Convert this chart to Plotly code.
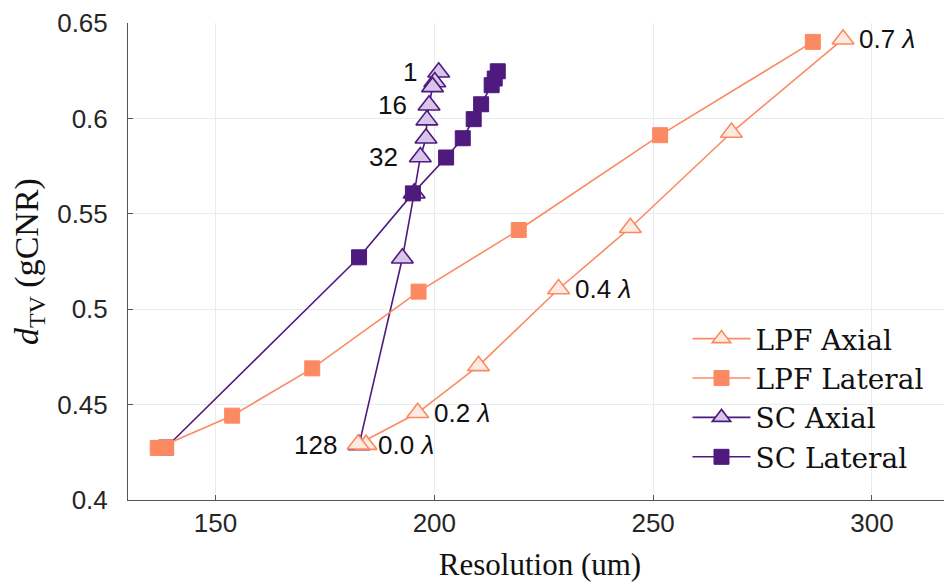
import plotly.graph_objects as go

# ---------------- data ----------------
lpf_axial_res = [184.4, 182.6, 196.2, 210.1, 228.4, 244.8, 267.9, 293.4]
lpf_axial_gcnr = [0.4290, 0.4292, 0.4457, 0.4703, 0.5106, 0.5427, 0.5926, 0.6415]

lpf_lateral_res = [138.7, 136.8, 153.8, 172.1, 196.4, 219.3, 251.6, 286.5]
lpf_lateral_gcnr = [0.4275, 0.4273, 0.4442, 0.4690, 0.5092, 0.5415, 0.5912, 0.6401]

sc_axial_res = [201.0, 200.1, 199.6, 198.8, 198.3, 198.1, 196.8, 195.4, 192.7, 182.8]
sc_axial_gcnr = [0.6242, 0.6191, 0.6165, 0.6069, 0.5991, 0.5896, 0.5798, 0.5608, 0.5267, 0.4289]

sc_lateral_res = [214.5, 213.8, 213.1, 210.7, 209.0, 206.5, 202.7, 195.1, 182.8, 138.7]
sc_lateral_gcnr = [0.6247, 0.6209, 0.6174, 0.6074, 0.5996, 0.5896, 0.5795, 0.5607, 0.5272, 0.4275]

sc_labels = ["1", "16", "32", "128"]
sc_label_idx = [0, 3, 6, 9]
lpf_labels = ["0.0", "0.2", "0.4", "0.7"]
lpf_label_idx = [0, 2, 4, 7]

x_ticks = [150, 200, 250, 300]
y_ticks = [0.4, 0.45, 0.5, 0.55, 0.6, 0.65]
y_tick_text = ["0.4", "0.45", "0.5", "0.55", "0.6", "0.65"]

# ---------------- styling ----------------
ORANGE = "#FB8A62"
ORANGE_FILL = "#FDEBE2"
PURPLE = "#4E1A7E"
PURPLE_FILL = "#D7C6EA"
SANS = "Liberation Sans, Arial, sans-serif"
SERIF = "Liberation Serif, Times New Roman, serif"
LEG_SERIF = "DejaVu Serif, serif"

fig = go.Figure()

fig.add_trace(go.Scatter(
    x=sc_axial_res, y=sc_axial_gcnr, name="SC Axial", mode="lines+markers",
    line=dict(color=PURPLE, width=1.6),
    marker=dict(symbol="triangle-up", size=19, color=PURPLE_FILL,
                line=dict(color=PURPLE, width=1.6)),
    legendrank=3))
fig.add_trace(go.Scatter(
    x=sc_lateral_res, y=sc_lateral_gcnr, name="SC Lateral", mode="lines+markers",
    line=dict(color=PURPLE, width=1.6),
    marker=dict(symbol="square", size=15, color=PURPLE,
                line=dict(color=PURPLE, width=1)),
    legendrank=4))
fig.add_trace(go.Scatter(
    x=lpf_axial_res, y=lpf_axial_gcnr, name="LPF Axial", mode="lines+markers",
    line=dict(color=ORANGE, width=1.6),
    marker=dict(symbol="triangle-up", size=19, color=ORANGE_FILL,
                line=dict(color=ORANGE, width=1.6)),
    legendrank=1))
fig.add_trace(go.Scatter(
    x=lpf_lateral_res, y=lpf_lateral_gcnr, name="LPF Lateral", mode="lines+markers",
    line=dict(color=ORANGE, width=1.6),
    marker=dict(symbol="square", size=15, color=ORANGE,
                line=dict(color=ORANGE, width=1)),
    legendrank=2))

annotations = []
for lab, i in zip(sc_labels, sc_label_idx):
    annotations.append(dict(
        x=sc_axial_res[i], y=sc_axial_gcnr[i], text=lab, showarrow=False,
        xanchor="right", yanchor="middle", xshift=-20,
        font=dict(family=SANS, size=26, color="#111111")))
for lab, i in zip(lpf_labels, lpf_label_idx):
    annotations.append(dict(
        x=lpf_axial_res[i], y=lpf_axial_gcnr[i], text=lab + " <i>λ</i>", showarrow=False,
        xanchor="left", yanchor="middle", xshift=10 if i == 0 else 14,
        font=dict(family=SANS, size=26, color="#111111")))

# the page body adds an 8px offset; margins compensate for it
fig.update_layout(
    width=952, height=587,
    margin=dict(l=120, r=8, t=15, b=95, autoexpand=False),
    paper_bgcolor="white", plot_bgcolor="white",
    showlegend=True,
    legend=dict(x=0.679, y=0.214, xanchor="left", yanchor="middle",
                bgcolor="rgba(0,0,0,0)", borderwidth=0,
                font=dict(family=LEG_SERIF, size=28, color="#111111"),
                itemwidth=58, tracegroupgap=0),
    annotations=annotations,
)

fig.update_xaxes(
    range=[130, 318.3], tickvals=x_ticks, ticks="inside", ticklen=5,
    tickcolor="#555555", showline=True, linecolor="#555555", linewidth=1,
    showgrid=True, gridcolor="#EBEBEB", gridwidth=1, zeroline=False,
    automargin=False,
    tickfont=dict(family=SANS, size=26, color="#262626"),
    ticklabelstandoff=0,
    title=dict(text="Resolution (um)", font=dict(family=SERIF, size=31, color="#111111"),
               standoff=16),
)
fig.update_yaxes(
    range=[0.4, 0.65], tickvals=y_ticks, ticktext=y_tick_text, ticks="inside", ticklen=5,
    tickcolor="#555555", showline=True, linecolor="#555555", linewidth=1,
    showgrid=True, gridcolor="#EBEBEB", gridwidth=1, zeroline=False,
    automargin=False,
    tickfont=dict(family=SANS, size=26, color="#262626"),
    ticklabelstandoff=14,
    title=dict(text="<i>d</i><sub>TV</sub> (gCNR)", font=dict(family=SERIF, size=34, color="#111111"),
               standoff=8),
)

fig.write_html("out.html")
